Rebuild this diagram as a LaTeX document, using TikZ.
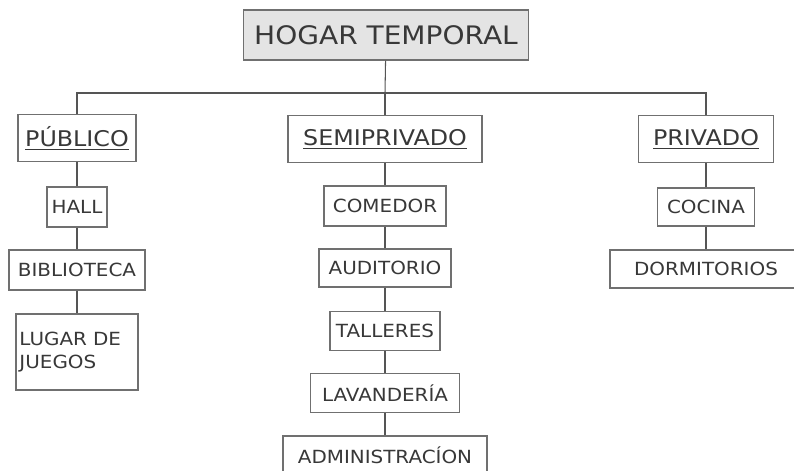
\documentclass[tikz,border=0pt]{standalone}
\usepackage{fontspec}
\setmainfont{DejaVu Sans}[FakeStretch=1.1]
\definecolor{inkgray}{HTML}{383838}
\definecolor{linegray}{HTML}{555555}
\definecolor{boxgray}{HTML}{707070}
\definecolor{titlefill}{HTML}{E4E4E4}
\tikzset{
    box/.style={draw=boxgray, line width=0.6pt, fill=white, text=inkgray, inner sep=2pt},
    titlebox/.style={box, fill=titlefill, font=\fontsize{14.5}{17}\selectfont, minimum width=5.7cm, minimum height=1cm},
    headbox/.style={box, font=\fontsize{12.3}{15}\selectfont, minimum height=0.94cm},
    itembox/.style={box, font=\fontsize{10.3}{13}\selectfont, minimum height=0.78cm},
    link/.style={draw=linegray, line width=0.6pt}
}
\begin{document}
\begin{tikzpicture}
    \useasboundingbox (0,0) rectangle (15.88,-9.42);

    \node[titlebox] (title) at (7.72,-0.70) {HOGAR TEMPORAL};
    \coordinate (bar) at (7.70,-1.86);

    % publico
    \node[headbox, minimum width=2.36cm] (pub) at (1.54,-2.76) {\underline{PÚBLICO}};
    \node[itembox, minimum width=1.2cm, minimum height=0.8cm] (hall) at (1.54,-4.14) {HALL};
    \node[itembox, minimum width=2.72cm, minimum height=0.8cm] (bib) at (1.54,-5.40) {BIBLIOTECA};
    \node[itembox, align=left, text width=2.3cm, minimum height=1.52cm] (juegos) at (1.54,-7.04) {LUGAR DE\\JUEGOS};

    % semiprivado
    \node[headbox, minimum width=3.88cm] (semi) at (7.70,-2.78) {\underline{SEMIPRIVADO}};
    \node[itembox, minimum width=2.44cm, minimum height=0.8cm] (comedor) at (7.70,-4.12) {COMEDOR};
    \node[itembox, minimum width=2.64cm, minimum height=0.76cm] (audit) at (7.70,-5.36) {AUDITORIO};
    \node[itembox, minimum width=2.2cm] (talleres) at (7.70,-6.62) {TALLERES};
    \node[itembox, minimum width=2.98cm] (lavand) at (7.70,-7.86) {LAVANDERÍA};
    \node[itembox, minimum width=4.08cm] (admin) at (7.70,-9.11) {ADMINISTRACÍON};

    % privado
    \node[headbox, minimum width=2.7cm] (priv) at (14.12,-2.78) {\underline{PRIVADO}};
    \node[itembox, minimum width=1.94cm, minimum height=0.76cm] (cocina) at (14.12,-4.14) {COCINA};
    \node[itembox, minimum width=3.84cm, minimum height=0.76cm] (dorm) at (14.12,-5.38) {DORMITORIOS};

    % ramas
    \draw[link] (title) -- (bar);
    \draw[link] (pub) |- (bar) -| (priv);
    \draw[link] (bar) -- (semi);
    \foreach \a/\b in {pub/hall, hall/bib, bib/juegos,
        semi/comedor, comedor/audit, audit/talleres, talleres/lavand, lavand/admin,
        priv/cocina, cocina/dorm}
        \draw[link] (\a) -- (\b);
\end{tikzpicture}
\end{document}
